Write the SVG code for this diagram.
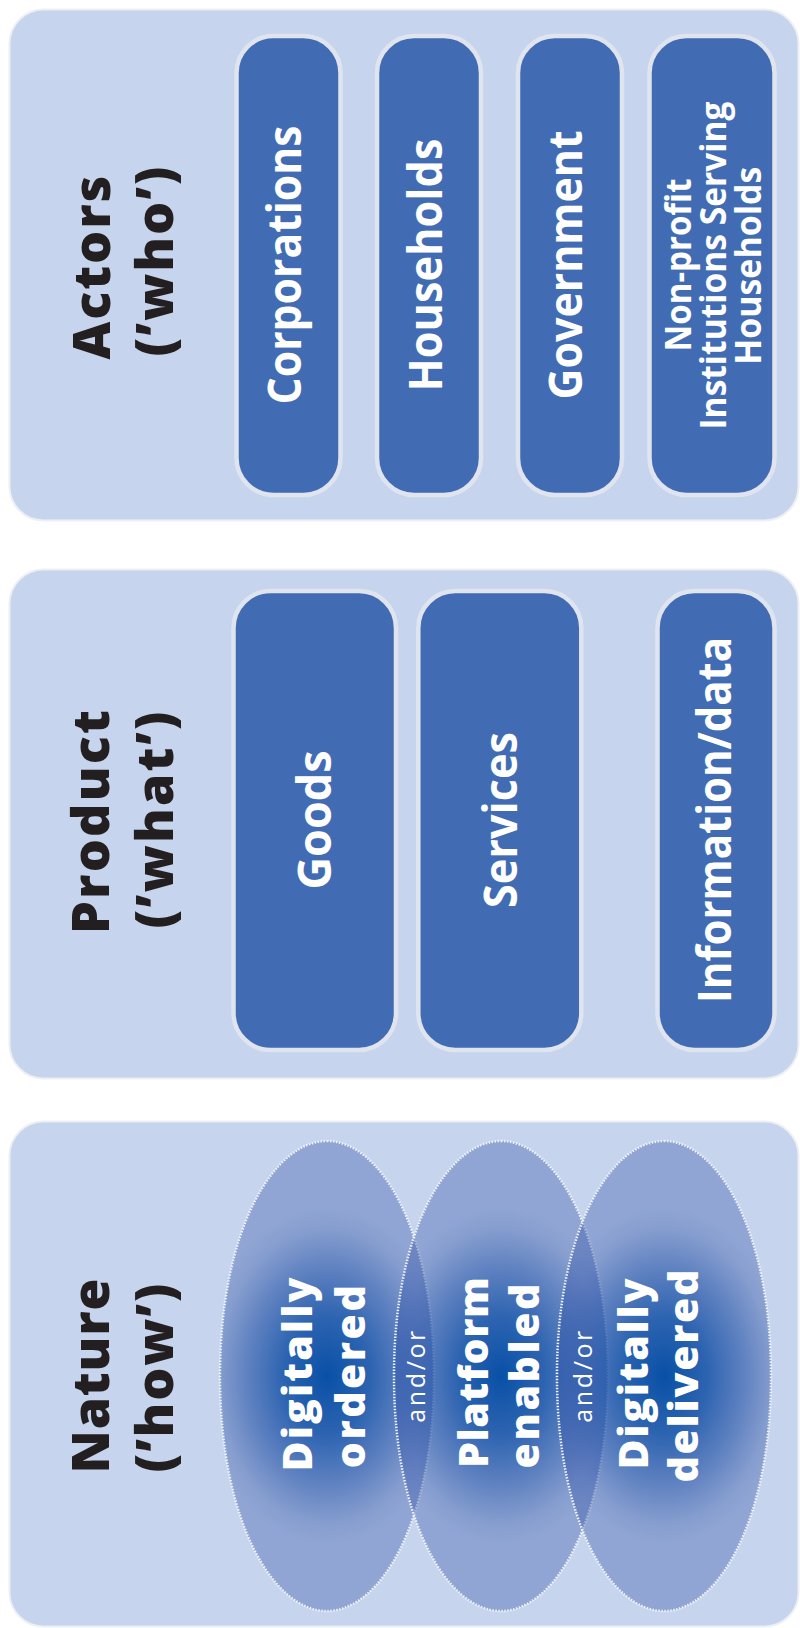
<svg xmlns="http://www.w3.org/2000/svg" width="800" height="1628" viewBox="0 0 800 1628">
<defs>
<style>
.panel{fill:#c6d5ed;stroke:#eceff4;stroke-width:2}
.box{fill:#416cb4;stroke:#dfe4ee;stroke-width:4.5}
.t{font-family:'Open Sans','Liberation Sans',sans-serif;text-anchor:middle}
.title{font-weight:800;font-size:52px;fill:#231f20}
.lbl{font-weight:700;fill:#ffffff}
.big{font-size:46px}
.small{font-size:35px}
.ov{font-size:41px;font-weight:800}
.andor{font-weight:400;font-size:25px;fill:#ffffff}
.ell{stroke:#eef1f6;stroke-width:2.5;stroke-dasharray:1.5 1.5}
</style>
<radialGradient id="g1" gradientUnits="userSpaceOnUse" cx="327" cy="1376" r="125" gradientTransform="translate(327,1376) scale(1,1.35) translate(-327,-1376)">
<stop offset="0" stop-color="#0850a6" stop-opacity="1"/>
<stop offset="0.35" stop-color="#1250a6" stop-opacity="0.85"/>
<stop offset="0.65" stop-color="#2250a6" stop-opacity="0.62"/>
<stop offset="0.87" stop-color="#2c50a5" stop-opacity="0.42"/>
<stop offset="1" stop-color="#3050a5" stop-opacity="0.36"/>
</radialGradient>
<radialGradient id="g2" gradientUnits="userSpaceOnUse" cx="501" cy="1376" r="125" gradientTransform="translate(501,1376) scale(1,1.35) translate(-501,-1376)">
<stop offset="0" stop-color="#0850a6" stop-opacity="1"/>
<stop offset="0.35" stop-color="#1250a6" stop-opacity="0.85"/>
<stop offset="0.65" stop-color="#2250a6" stop-opacity="0.62"/>
<stop offset="0.87" stop-color="#2c50a5" stop-opacity="0.42"/>
<stop offset="1" stop-color="#3050a5" stop-opacity="0.36"/>
</radialGradient>
<radialGradient id="g3" gradientUnits="userSpaceOnUse" cx="664" cy="1376" r="125" gradientTransform="translate(664,1376) scale(1,1.35) translate(-664,-1376)">
<stop offset="0" stop-color="#0850a6" stop-opacity="1"/>
<stop offset="0.35" stop-color="#1250a6" stop-opacity="0.85"/>
<stop offset="0.65" stop-color="#2250a6" stop-opacity="0.62"/>
<stop offset="0.87" stop-color="#2c50a5" stop-opacity="0.42"/>
<stop offset="1" stop-color="#3050a5" stop-opacity="0.36"/>
</radialGradient>
</defs>
<rect width="800" height="1628" fill="#ffffff"/>

<g id="panel-actors">
<rect class="panel" x="9.5" y="9.5" width="789" height="511" rx="34"/>
<text class="t title" transform="translate(110,267.5) rotate(-90)" textLength="184" lengthAdjust="spacing">Actors</text>
<text class="t title" transform="translate(173,261.5) rotate(-90)" textLength="190" lengthAdjust="spacing">(’who’)</text>
</g>
<g id="corporations">
<rect class="box" x="236.5" y="36" width="104" height="459" rx="37"/>
<text class="t lbl big" transform="translate(301,265) rotate(-90)" textLength="279" lengthAdjust="spacingAndGlyphs">Corporations</text>
</g>
<g id="households">
<rect class="box" x="377" y="36" width="104" height="459" rx="37"/>
<text class="t lbl big" transform="translate(442,265) rotate(-90)" textLength="253" lengthAdjust="spacingAndGlyphs">Households</text>
</g>
<g id="government">
<rect class="box" x="518" y="36" width="104" height="459" rx="37"/>
<text class="t lbl big" transform="translate(582,265) rotate(-90)" textLength="269" lengthAdjust="spacingAndGlyphs">Government</text>
</g>
<g id="npish">
<rect class="box" x="649.5" y="36" width="125" height="459" rx="37"/>
<text class="t lbl small" transform="translate(691,265) rotate(-90)" textLength="173" lengthAdjust="spacingAndGlyphs">Non-profit</text>
<text class="t lbl small" transform="translate(726,265.5) rotate(-90)" textLength="328" lengthAdjust="spacingAndGlyphs">Institutions Serving</text>
<text class="t lbl small" transform="translate(761,265.7) rotate(-90)" textLength="198" lengthAdjust="spacingAndGlyphs">Households</text>
</g>

<g id="panel-product">
<rect class="panel" x="9.5" y="569.5" width="789" height="509" rx="34"/>
<text class="t title" transform="translate(109.3,822) rotate(-90)" textLength="224" lengthAdjust="spacing">Product</text>
<text class="t title" transform="translate(173,820) rotate(-90)" textLength="217" lengthAdjust="spacing">(’what’)</text>
</g>
<g id="goods">
<rect class="box" x="233.5" y="591" width="162.5" height="459" rx="37"/>
<text class="t lbl big" transform="translate(331,820) rotate(-90)" textLength="139" lengthAdjust="spacingAndGlyphs">Goods</text>
</g>
<g id="services">
<rect class="box" x="418.3" y="591" width="163" height="459" rx="37"/>
<text class="t lbl big" transform="translate(516.7,820) rotate(-90)" textLength="176" lengthAdjust="spacingAndGlyphs">Services</text>
</g>
<g id="information-data">
<rect class="box" x="657.5" y="591" width="117" height="459" rx="37"/>
<text class="t lbl big" transform="translate(731,820) rotate(-90)" textLength="366" lengthAdjust="spacingAndGlyphs">Information/data</text>
</g>

<g id="panel-nature">
<rect class="panel" x="9.5" y="1121.5" width="789" height="505" rx="34"/>
<text class="t title" transform="translate(109.3,1376) rotate(-90)" textLength="195" lengthAdjust="spacing">Nature</text>
<text class="t title" transform="translate(173,1378) rotate(-90)" textLength="189" lengthAdjust="spacing">(’how’)</text>
</g>
<g id="digitally-ordered">
<path class="ell" fill="url(#g1)" d="M327,1141 C380.5,1141 434,1230.3 434,1376 C434,1521.7 380.5,1611 327,1611 C273.5,1611 220,1521.7 220,1376 C220,1230.3 273.5,1141 327,1141 Z"/>
</g>
<g id="platform-enabled">
<path class="ell" fill="url(#g2)" d="M501,1141 C554.5,1141 608,1230.3 608,1376 C608,1521.7 554.5,1611 501,1611 C447.5,1611 394,1521.7 394,1376 C394,1230.3 447.5,1141 501,1141 Z"/>
</g>
<g id="digitally-delivered">
<path class="ell" fill="url(#g3)" d="M664,1141 C717.5,1141 771,1230.3 771,1376 C771,1521.7 717.5,1611 664,1611 C610.5,1611 557,1521.7 557,1376 C557,1230.3 610.5,1141 664,1141 Z"/>
</g>
<g id="nature-labels">
<text class="t lbl ov" transform="translate(312,1374.5) rotate(-90)" textLength="194" lengthAdjust="spacing">Digitally</text>
<text class="t lbl ov" transform="translate(365,1376.7) rotate(-90)" textLength="183" lengthAdjust="spacing">ordered</text>
<text class="t andor" transform="translate(425,1376.7) rotate(-90)" textLength="92" lengthAdjust="spacing">and/or</text>
<text class="t lbl ov" transform="translate(488,1372.5) rotate(-90)" textLength="191" lengthAdjust="spacing">Platform</text>
<text class="t lbl ov" transform="translate(539,1376) rotate(-90)" textLength="185" lengthAdjust="spacing">enabled</text>
<text class="t andor" transform="translate(592,1376.7) rotate(-90)" textLength="92" lengthAdjust="spacing">and/or</text>
<text class="t lbl ov" transform="translate(648,1374) rotate(-90)" textLength="191" lengthAdjust="spacing">Digitally</text>
<text class="t lbl ov" transform="translate(698,1376) rotate(-90)" textLength="213" lengthAdjust="spacing">delivered</text>
</g>
</svg>
